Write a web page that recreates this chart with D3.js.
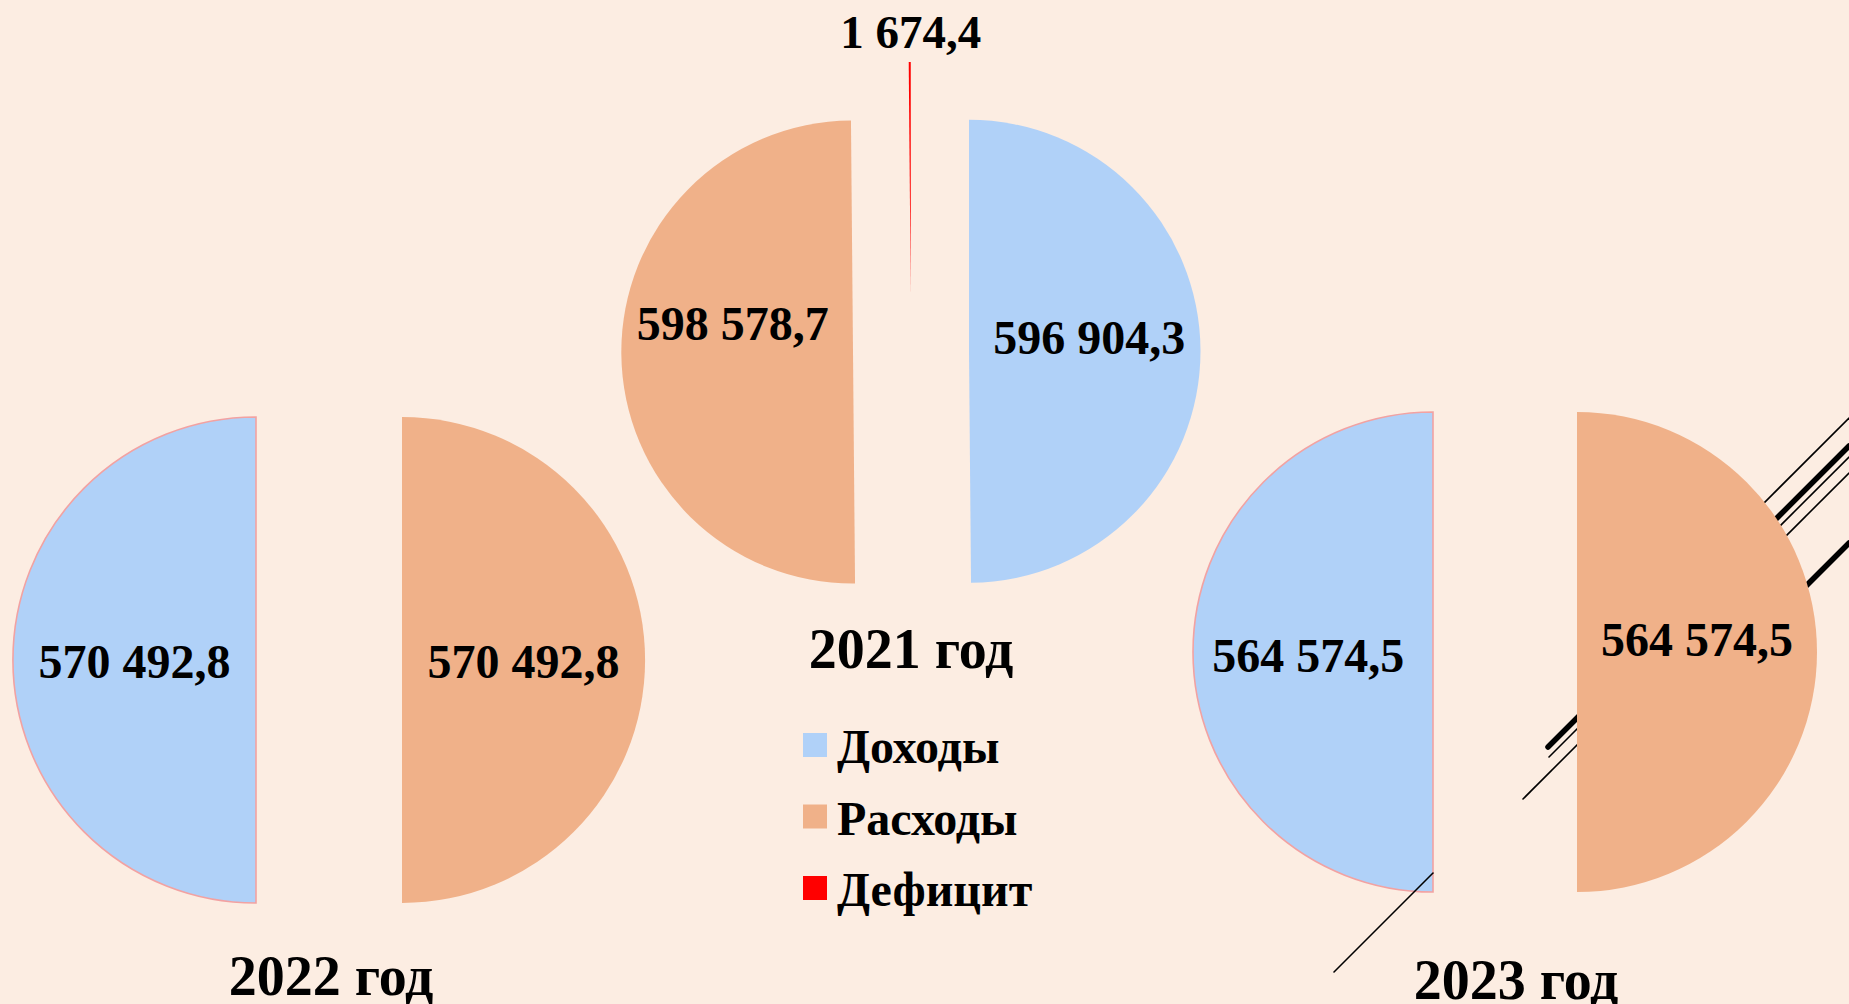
<!DOCTYPE html>
<html><head><meta charset="utf-8">
<script src="https://cdn.jsdelivr.net/npm/d3@7"></script>
<style>
html,body{margin:0;padding:0;background:#FCEDE2;}
svg{display:block;}
text{font-family:"Liberation Serif","Times New Roman",serif;font-weight:bold;fill:#000;}
</style></head>
<body>
<svg id="chart" width="1849" height="1004"></svg>
<script>
// ---- data ----
const years = ["2021 год", "2022 год", "2023 год"];
const categories = ["Доходы", "Расходы", "Дефицит"];
const dohody = [596904.3, 570492.8, 564574.5];
const rashody = [598578.7, 570492.8, 564574.5];
const deficit = [1674.4, 0, 0];
const colors = ["#B0D1F8", "#F0B189", "#FF0000"];

// ---- layout ----
const W = 1849, H = 1004;
const layout = [
  {cx: 911, cy: 351.5, r: 231.5, explode: 58, start: 0, titleX: 911, titleY: 668, labelR: [1.04, 1.04], labelDy: [-14, -30], stroke: "none"},
  {cx: 329, cy: 660, r: 243, explode: 73, start: Math.PI, titleX: 331, titleY: 995, labelR: [1.0, 1.0], labelDy: [1, 1], stroke: "#F2A2A2"},
  {cx: 1505, cy: 652, r: 240, explode: 72, start: Math.PI, titleX: 1516, titleY: 999, labelR: [1.04, 1.0], labelDy: [3, -13], stroke: "#F2A2A2"}
];
// decorative slide lines (slope -1): [x1, y1, x2, y2, width, onTop]
const decoLines = [
  [1650, 617, 1849, 418, 1.6, false],
  [1548, 747, 1849, 446, 5.5, false],
  [1549, 757, 1849, 457, 1.6, false],
  [1523, 799, 1849, 473, 1.6, false],
  [1760, 632, 1849, 543, 5.5, false],
  [1334, 972, 1433, 873, 1.6, true]
];

const loc = d3.formatLocale({decimal: ",", thousands: " ", grouping: [3], currency: ["", ""]});
const fmt = loc.format(",.1f");

const svg = d3.select("#chart");
svg.append("rect").attr("width", W).attr("height", H).attr("fill", "#FCEDE2");

const drawLines = (onTop) => svg.append("g").selectAll("line")
  .data(decoLines.filter(d => d[5] === onTop)).join("line")
  .attr("x1", d => d[0]).attr("y1", d => d[1]).attr("x2", d => d[2]).attr("y2", d => d[3])
  .attr("stroke", "#000").attr("stroke-width", d => d[4]).attr("stroke-linecap", "round");

drawLines(false);

const color = d3.scaleOrdinal().domain(categories).range(colors);

years.forEach((yr, i) => {
  const L = layout[i];
  const values = [dohody[i], rashody[i], deficit[i]];
  const items = categories.map((c, k) => ({cat: c, value: values[k]}));
  const pie = d3.pie().sort(null).value(d => d.value)
    .startAngle(L.start).endAngle(L.start + 2 * Math.PI);
  const arcs = pie(items);
  const arc = d3.arc().innerRadius(0).outerRadius(L.r);
  const g = svg.append("g").attr("transform", `translate(${L.cx},${L.cy})`);

  const off = d => {
    const a = (d.startAngle + d.endAngle) / 2;
    return [Math.sin(a) * L.explode, -Math.cos(a) * L.explode];
  };

  const slices = g.selectAll("g.slice").data(arcs.filter(d => d.value > 0)).join("g")
    .attr("class", "slice")
    .attr("transform", d => { const o = off(d); return `translate(${o[0]},${o[1]})`; });

  slices.append("path")
    .attr("d", arc)
    .attr("fill", d => color(d.data.cat))
    .attr("stroke", d => d.data.cat === "Доходы" ? L.stroke : "none")
    .attr("stroke-width", 1.6);

  slices.each(function(d) {
    const sel = d3.select(this);
    if (d.data.cat === "Дефицит") {
      sel.append("text")
        .attr("x", 0).attr("y", -L.r - 14)
        .attr("text-anchor", "middle").attr("font-size", 47)
        .text(fmt(d.data.value));
    } else {
      const idx = d.data.cat === "Доходы" ? 0 : 1;
      const c = d3.arc().innerRadius(0).outerRadius(L.r * L.labelR[idx]).centroid(d);
      sel.append("text")
        .attr("x", c[0]).attr("y", c[1] + L.labelDy[idx]).attr("dy", "0.35em")
        .attr("text-anchor", "middle").attr("font-size", 48)
        .text(fmt(d.data.value));
    }
  });

  svg.append("text").attr("x", L.titleX).attr("y", L.titleY)
    .attr("text-anchor", "middle").attr("font-size", 56).text(yr);
});

drawLines(true);

// legend
const lg = svg.append("g").attr("transform", "translate(803,733)");
const li = lg.selectAll("g").data(categories).join("g")
  .attr("transform", (d, k) => `translate(0,${k * 71.5})`);
li.append("rect").attr("width", 24).attr("height", 24).attr("fill", d => color(d));
li.append("text").attr("x", 34).attr("y", 30).attr("font-size", 48).text(d => d);
</script>
</body></html>
